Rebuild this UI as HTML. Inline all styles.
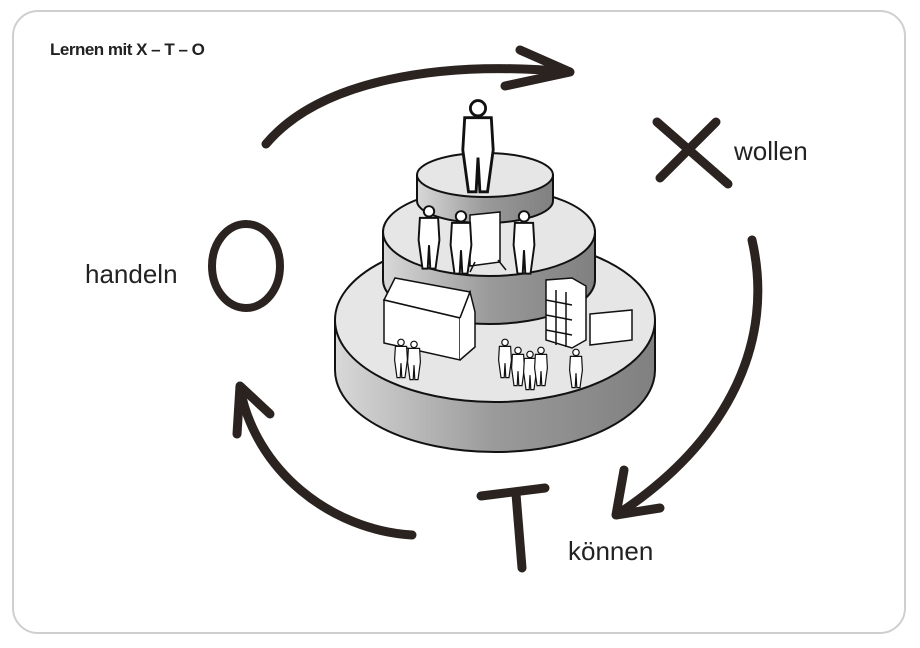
<!DOCTYPE html>
<html><head><meta charset="utf-8"><style>
html,body{margin:0;padding:0;background:#fff;width:920px;height:648px;overflow:hidden}
.card{position:absolute;left:12px;top:10px;width:894px;height:624px;border:2px solid #cfcfcf;border-radius:26px;box-sizing:border-box}
.t{position:absolute;font-family:"Liberation Sans",sans-serif;color:#222}
</style></head><body>
<div class="card"></div>
<div class="t" style="left:50px;top:40px;font-size:17px;font-weight:bold;letter-spacing:-0.5px">Lernen mit X – T – O</div>
<div class="t" style="left:734px;top:136px;font-size:26px">wollen</div>
<div class="t" style="left:568px;top:536px;font-size:26px">können</div>
<div class="t" style="left:85px;top:259px;font-size:26px">handeln</div>
<svg width="920" height="648" style="position:absolute;left:0;top:0">
<defs>
<linearGradient id="g1" x1="0" x2="1"><stop offset="0" stop-color="#d8d8d8"/><stop offset=".5" stop-color="#9a9a9a"/><stop offset="1" stop-color="#808080"/></linearGradient>
<g id="p" stroke="#111" stroke-width="1.5" fill="#fff">
<circle cx="0" cy="-22" r="4"/>
<path d="M-7 -17 L7 -17 L8 0 L5 22 L1 22 L0 4 L-1 22 L-5 22 L-8 0 Z"/>
</g>
</defs>
<g fill="none" stroke="#2b2320" stroke-width="9" stroke-linecap="round" stroke-linejoin="round">
<path d="M266 144 C320 80 440 60 568 72"/>
<path d="M520 50 L570 72 L505 86"/>
<path d="M752 240 C775 340 730 440 618 514"/>
<path d="M624 470 L616 515 L660 508"/>
<path d="M412 535 C330 530 255 470 240 388"/>
<path d="M237 434 L240 386 L270 414"/>
<path d="M657 122 L728 184 M716 122 L660 178"/>
<path d="M481 496 L545 488 M516 494 L522 568"/>
<ellipse cx="246" cy="266" rx="34" ry="42" stroke-width="8"/>
</g>
<g stroke="#111" stroke-width="2">
<path d="M335 320 L335 370 A160 82 0 0 0 655 370 L655 320 Z" fill="url(#g1)"/>
<ellipse cx="495" cy="320" rx="160" ry="82" fill="#e6e6e6"/>
<path d="M383 232 L383 280 A106 44 0 0 0 595 280 L595 232 Z" fill="url(#g1)"/>
<ellipse cx="489" cy="232" rx="106" ry="44" fill="#e6e6e6"/>
<path d="M417 175 L417 201 A68 22 0 0 0 553 201 L553 175 Z" fill="url(#g1)"/>
<ellipse cx="485" cy="175" rx="68" ry="22" fill="#e6e6e6"/>
</g>
<g stroke="#111" stroke-width="1.5" fill="#fff">
<path d="M384 300 L395 278 L470 292 L460 318 Z"/>
<path d="M384 300 L384 343 L460 360 L460 318 Z"/>
<path d="M460 318 L470 292 L475 312 L475 347 L460 360"/>
<path d="M546 280 L546 340 L572 348 L586 340 L586 286 L572 278 Z"/>
<path d="M556 290 L556 345 M566 292 L566 347 M546 300 L572 305 M546 315 L572 320 M546 330 L572 335"/>
<path d="M590 314 L632 310 L632 340 L590 345 Z"/>
<path d="M470 215 L500 212 L500 262 L470 266 Z M475 262 L470 272 M498 260 L506 270"/>
</g>
<g transform="translate(478,150) scale(1.9)"><use href="#p"/></g>
<g transform="translate(429,240) scale(1.3)"><use href="#p"/></g>
<g transform="translate(461,245) scale(1.3)"><use href="#p"/></g>
<g transform="translate(524,245) scale(1.3)"><use href="#p"/></g>
<g transform="translate(401,360) scale(0.8)"><use href="#p"/></g>
<g transform="translate(414,362) scale(0.8)"><use href="#p"/></g>
<g transform="translate(505,360) scale(0.8)"><use href="#p"/></g>
<g transform="translate(518,368) scale(0.8)"><use href="#p"/></g>
<g transform="translate(530,372) scale(0.8)"><use href="#p"/></g>
<g transform="translate(541,368) scale(0.8)"><use href="#p"/></g>
<g transform="translate(576,370) scale(0.8)"><use href="#p"/></g>
</svg>
</body></html>
